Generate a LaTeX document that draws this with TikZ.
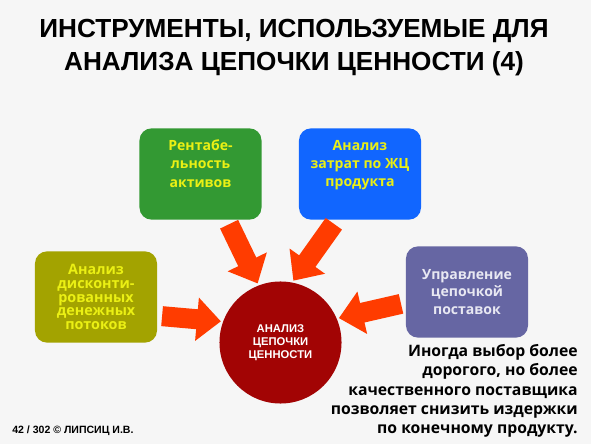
\documentclass[tikz,border=0pt]{standalone}
\usepackage{fontspec}
\setmainfont{Liberation Sans}
\newfontfamily\roundfont{Open Sans}
\usetikzlibrary{arrows.meta, positioning}
\definecolor{bggray}{HTML}{F6F6F6}
\definecolor{tilegreen}{HTML}{339933}
\definecolor{tileblue}{HTML}{1166FF}
\definecolor{tileolive}{HTML}{A3A300}
\definecolor{tilepurple}{HTML}{6666A3}
\definecolor{corered}{HTML}{A20404}
\definecolor{arrowred}{HTML}{FF3C00}
\definecolor{tileyellow}{HTML}{EBF014}
\definecolor{tilewhite}{HTML}{E8E8F2}
\tikzset{
  tile/.style={rectangle, rounded corners=0.3cm, minimum width=3.05cm, minimum height=2.28cm, align=center, inner sep=1mm, font=\roundfont\bfseries\fontsize{10}{13}\selectfont},
  core/.style={circle, fill=corered, minimum size=3.05cm, inner sep=0pt, align=center, text=white, font=\bfseries\fontsize{8}{9.2}\selectfont},
  bigarrow/.style={draw=arrowred, line width=0.5cm, -{Triangle[length=0.6cm, width=1.05cm]}, shorten <=0.12cm, shorten >=0.05cm}
}
\begin{document}
\begin{tikzpicture}[x=0.025cm, y=-0.025cm]
\fill[bggray] (0,0) rectangle (591,444);

\node[font=\bfseries\fontsize{18.6}{23.4}\selectfont, align=center] (title) at (294,48) {ИНСТРУМЕНТЫ, ИСПОЛЬЗУЕМЫЕ ДЛЯ\\АНАЛИЗА ЦЕПОЧКИ ЦЕННОСТИ (4)};

% four tools around the core
\node[tile, fill=tilegreen, text=tileyellow] (rent) at (200.5,174) {Рентабе-\\льность\\активов\\[2pt]\mbox{}};
\node[tile, fill=tileblue, text=tileyellow] (lcc) at (360,174) {Анализ\\затрат по ЖЦ\\продукта\\[2pt]\mbox{}};
\node[tile, fill=tileolive, text=tileyellow, font=\roundfont\bfseries\fontsize{10.2}{9.8}\selectfont] (dcf) at (96,297) {Анализ\\дисконти-\\рованных\\денежных\\потоков};
\node[tile, fill=tilepurple, text=tilewhite, font=\roundfont\bfseries\fontsize{10}{12.4}\selectfont] (scm) at (467,292) {Управление\\цепочкой\\поставок};

\node[core] (vca) at (280.5,342.5) {АНАЛИЗ\\ЦЕПОЧКИ\\ЦЕННОСТИ};

\draw[bigarrow] (rent.-60) -- (vca.111);
\draw[bigarrow] (lcc.-117) -- (vca.79);
\draw[bigarrow] (dcf.-17) -- (vca.160);
\draw[bigarrow] (scm.-170) -- (vca.23);

\node[anchor=east, align=right, inner sep=0pt, font=\roundfont\bfseries\fontsize{11.2}{13.8}\selectfont] (note) at (578,391) {Иногда выбор более\\дорогого, но более\\качественного поставщика\\позволяет снизить издержки\\по конечному продукту.};

\node[anchor=west, inner sep=0pt, font=\bfseries\fontsize{7.5}{9}\selectfont] (foot) at (12,431) {42 / 302 © ЛИПСИЦ И.В.};
\end{tikzpicture}
\end{document}
